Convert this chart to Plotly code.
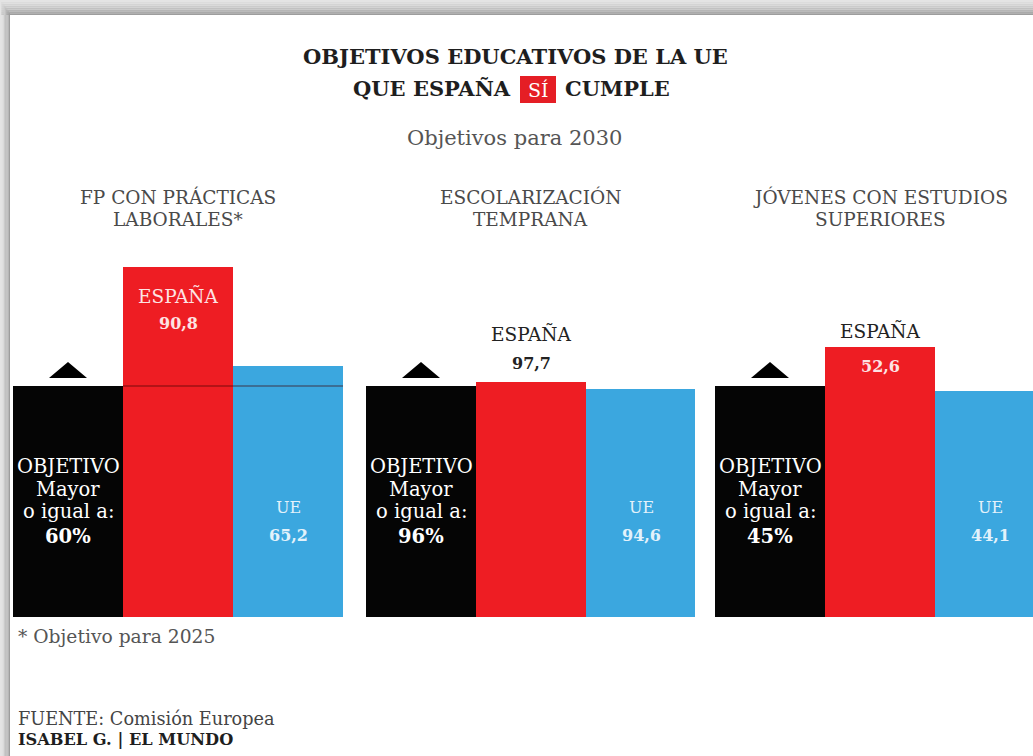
import plotly.graph_objects as go

# Data
panel_titles = [("FP CON PRÁCTICAS", "LABORALES*"), ("ESCOLARIZACIÓN", "TEMPRANA"),
                ("JÓVENES CON ESTUDIOS", "SUPERIORES")]
objetivo = [60, 96, 45]
espana = [90.8, 97.7, 52.6]
ue = [65.2, 94.6, 44.1]
bar_names = ["OBJETIVO", "ESPAÑA", "UE"]

W, H = 1033, 756
BLACK, RED, BLUE = "#050505", "#EE1D23", "#3BA7DF"
SERIF = "DejaVu Serif, serif"

def fx(px):
    return px / W

def fy(py):
    return 1 - py / H

def fmt(v):
    return f"{v:.1f}".replace(".", ",")

# Panel horizontal extents (px) and shared vertical frame
x_dom_px = [(13, 343), (366, 695), (715, 1033)]
bar_px = 110.0
base_px, top_px, obj_px = 617, 250, 231
dom_h = base_px - top_px

fig = go.Figure()
layout_axes = {}
for i in range(3):
    sfx = "" if i == 0 else str(i + 1)
    x0, x1 = x_dom_px[i]
    fig.add_trace(go.Bar(
        x=[0, 1, 2], y=[objetivo[i], espana[i], ue[i]],
        marker=dict(color=[BLACK, RED, BLUE], line=dict(width=0)),
        width=1.0, hoverinfo="skip", showlegend=False,
        xaxis="x" + sfx, yaxis="y" + sfx,
    ))
    span = (x1 - x0) / bar_px
    layout_axes["xaxis" + sfx] = dict(
        domain=[fx(x0), fx(x1)], range=[-0.5, -0.5 + span],
        visible=False, fixedrange=True)
    layout_axes["yaxis" + sfx] = dict(
        domain=[fy(base_px), fy(top_px)],
        range=[0, objetivo[i] * dom_h / obj_px],
        visible=False, fixedrange=True, anchor="x" + sfx)

fig.update_layout(**layout_axes)

ann = []
shapes = []

# Page frame: grey border with soft shading on top and left
shapes.append(dict(type="rect", xref="paper", yref="paper", x0=0, x1=1, y0=0, y1=1,
                   fillcolor="white", line=dict(width=0), layer="below"))
greys = ["#e4e4e4", "#dcdcdc", "#d4d4d4", "#cbcbcb", "#c1c1c1", "#b6b6b6", "#aaaaaa", "#9d9d9d"]
n = len(greys)
for k, c in enumerate(greys):
    shapes.append(dict(type="rect", xref="paper", yref="paper",
                       x0=0, x1=1, y0=fy(15 * (k + 1) / n), y1=fy(15 * k / n),
                       fillcolor=c, line=dict(width=0), layer="below"))
for k, c in enumerate(greys):
    shapes.append(dict(type="rect", xref="paper", yref="paper",
                       x0=fx(10 * k / n), x1=fx(10 * (k + 1) / n), y0=0, y1=fy(15 * k / n),
                       fillcolor=c, line=dict(width=0), layer="below"))

# Title
ann.append(dict(text="<b>OBJETIVOS EDUCATIVOS DE LA UE</b>", x=fx(515), y=fy(57),
                font=dict(family=SERIF, size=21, color="#1e1e1e")))
ann.append(dict(text="<b>QUE ESPAÑA</b>", x=fx(513), y=fy(89), xanchor="right",
                font=dict(family=SERIF, size=21, color="#1e1e1e")))
shapes.append(dict(type="rect", xref="paper", yref="paper",
                   x0=fx(520), x1=fx(556), y0=fy(103), y1=fy(76),
                   fillcolor="#E51E25", line=dict(width=0)))
ann.append(dict(text="SÍ", x=fx(538), y=fy(90),
                font=dict(family=SERIF, size=19, color="white")))
ann.append(dict(text="<b>CUMPLE</b>", x=fx(563), y=fy(89), xanchor="left",
                font=dict(family=SERIF, size=21, color="#1e1e1e")))
ann.append(dict(text="Objetivos para 2030", x=fx(514), y=fy(138),
                font=dict(family=SERIF, size=21, color="#555555")))

# Panel titles
centers = [(x0 + x1) / 2 if i < 2 else x0 + 1.5 * bar_px for i, (x0, x1) in enumerate(x_dom_px)]
for i in range(3):
    for line, ypx in zip(panel_titles[i], (197, 219)):
        ann.append(dict(text=line, x=fx(centers[i]), y=fy(ypx),
                        font=dict(family=SERIF, size=18.5, color="#4a4a4a")))

# España label placement: pixel offsets of each line from the bar top, and colour
es_offsets = [(-29, -56), (48, 18), (16, -20)]
es_colors = [("#fde3e3", "#fde3e3"), ("#222222", "#222222"), ("#222222", "#fde3e3")]

for i in range(3):
    sfx = "" if i == 0 else str(i + 1)
    xr, yr = "x" + sfx, "y" + sfx
    # objective text centred in the black bar
    lines = [("OBJETIVO", False, 35), ("Mayor", False, 12), ("o igual a:", False, -10),
             (f"{objetivo[i]:g}%", True, -35)]
    for txt, bold, dy in lines:
        ann.append(dict(text=f"<b>{txt}</b>" if bold else txt, xref=xr, yref=yr,
                        x=0, y=objetivo[i] / 2, yshift=dy,
                        font=dict(family=SERIF, size=19.5, color="white")))
    # España
    (d1, d2), (c1, c2) = es_offsets[i], es_colors[i]
    ann.append(dict(text="ESPAÑA", xref=xr, yref=yr, x=1, y=espana[i], yshift=d1,
                    font=dict(family=SERIF, size=18.5, color=c1)))
    ann.append(dict(text=f"<b>{fmt(espana[i])}</b>", xref=xr, yref=yr, x=1, y=espana[i],
                    yshift=d2, font=dict(family=SERIF, size=16, color=c2)))
    # UE
    ann.append(dict(text="UE", xref=xr, yref=yr, x=2, y=objetivo[i] / 2, yshift=-6,
                    font=dict(family=SERIF, size=16, color="#e3f2fb")))
    ann.append(dict(text=f"<b>{fmt(ue[i])}</b>", xref=xr, yref=yr, x=2, y=objetivo[i] / 2,
                    yshift=-34, font=dict(family=SERIF, size=16, color="#e3f2fb")))
    # marker triangle above the objective bar
    shapes.append(dict(type="path", xref=xr, yref=yr, xsizemode="pixel", ysizemode="pixel",
                       xanchor=0, yanchor=objetivo[i],
                       path="M-19,8 L19,8 L0,24 Z", fillcolor="#000000",
                       line=dict(width=0)))

# Objective reference line across the first panel
shapes.append(dict(type="line", xref="x", yref="y", x0=0.5, x1=2.5, y0=objetivo[0],
                   y1=objetivo[0], line=dict(color="rgba(60,0,0,0.45)", width=1.5)))

# Footnotes
ann.append(dict(text="* Objetivo para 2025", x=fx(16), y=fy(636), xanchor="left",
                font=dict(family=SERIF, size=18.7, color="#555555")))
ann.append(dict(text="FUENTE: Comisión Europea", x=fx(16), y=fy(719), xanchor="left",
                font=dict(family=SERIF, size=17.7, color="#444444")))
ann.append(dict(text="<b>ISABEL G. | EL MUNDO</b>", x=fx(16), y=fy(739), xanchor="left",
                font=dict(family=SERIF, size=16.2, color="#1e1e1e")))

for a in ann:
    a.setdefault("xref", "paper")
    a.setdefault("yref", "paper")
    a.setdefault("showarrow", False)
    a.setdefault("yanchor", "middle")
    a.setdefault("xanchor", "center")

fig.update_layout(
    width=W, height=H, margin=dict(l=0, r=0, t=0, b=0),
    paper_bgcolor="white", plot_bgcolor="rgba(0,0,0,0)",
    bargap=0, annotations=ann, shapes=shapes, showlegend=False,
)

fig.write_html("out.html", config={"displayModeBar": False})
